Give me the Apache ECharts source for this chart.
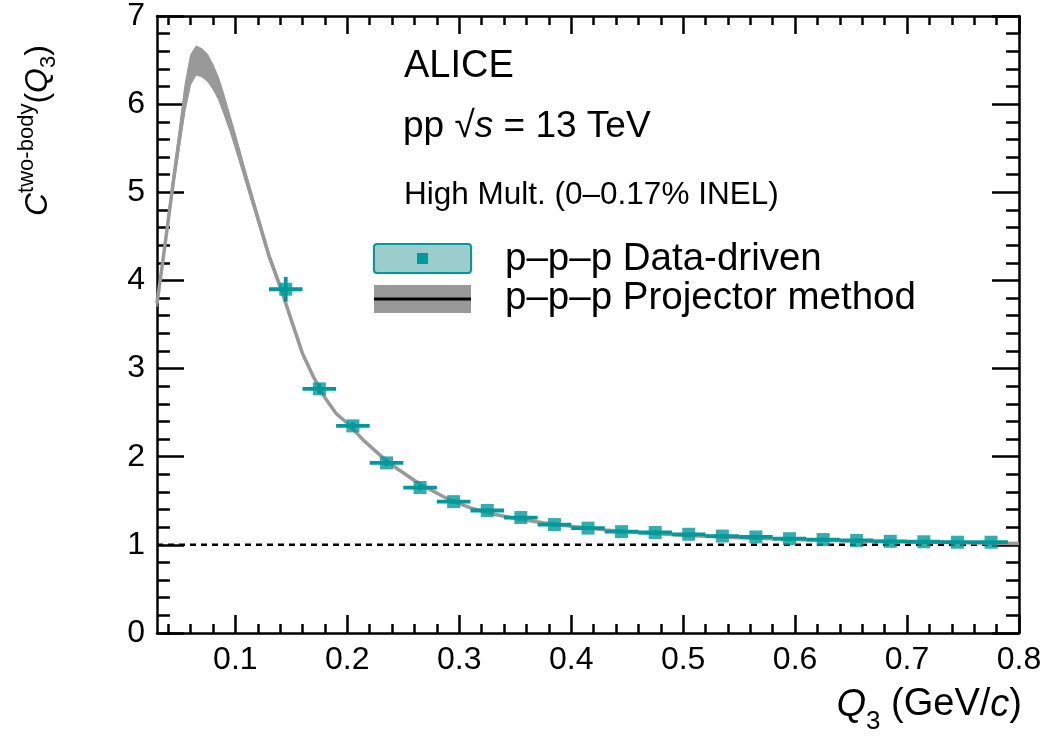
<!DOCTYPE html>
<html><head><meta charset="utf-8">
<script src="https://cdn.jsdelivr.net/npm/echarts@6/dist/echarts.min.js"></script>
<style>html,body{margin:0;padding:0;background:#fff}#c{width:1046px;height:736px}</style>
</head><body><div id="c"></div>
<script>
// ---- data ----
const pointQ = [0.145,0.175,0.205,0.235,0.265,0.295,0.325,0.355,0.385,0.415,0.445,0.475,0.505,0.535,0.565,0.595,0.625,0.655,0.685,0.715,0.745,0.775];
const pointC = [3.90,2.77,2.35,1.93,1.65,1.49,1.39,1.31,1.23,1.19,1.15,1.14,1.12,1.10,1.09,1.07,1.06,1.05,1.04,1.035,1.03,1.03];
const pointErrY = [0.14,0.06,0.04,0.035,0.03,0.025,0.02,0.02,0.02,0.02,0.02,0.02,0.02,0.02,0.02,0.02,0.02,0.02,0.02,0.02,0.02,0.02];
const pointErrX = [0.015,0.015,0.015,0.015,0.015,0.015,0.015,0.015,0.015,0.015,0.015,0.015,0.015,0.015,0.015,0.015,0.015,0.015,0.015,0.015,0.015,0.015];

const bandQ    = [0.030,0.035,0.040,0.045,0.050,0.055,0.060,0.065,0.070,0.075,0.080,0.085,0.090,0.095,0.100,0.110,0.120,0.130,0.140,0.150];
const bandLow  = [3.70,4.15,4.62,5.08,5.50,5.92,6.22,6.33,6.31,6.26,6.17,6.05,5.88,5.70,5.50,5.08,4.66,4.24,3.90,3.53];
const bandHigh = [3.78,4.25,4.75,5.25,5.72,6.22,6.56,6.66,6.63,6.57,6.45,6.30,6.10,5.88,5.66,5.20,4.76,4.32,3.97,3.58];

const curveQ = [0.030,0.035,0.040,0.045,0.050,0.055,0.060,0.065,0.070,0.075,0.080,0.085,0.090,0.095,0.100,0.110,0.120,0.130,0.140,0.150,0.160,0.170,0.180,0.190,0.200,0.215,0.230,0.245,0.260,0.275,0.290,0.310,0.330,0.350,0.375,0.400,0.430,0.460,0.500,0.550,0.600,0.650,0.700,0.750,0.800];
const curveC = [3.74,4.20,4.68,5.16,5.61,6.07,6.39,6.50,6.47,6.41,6.31,6.17,5.99,5.79,5.58,5.14,4.71,4.28,3.93,3.55,3.17,2.90,2.67,2.49,2.38,2.18,2.01,1.86,1.73,1.62,1.52,1.42,1.35,1.30,1.25,1.21,1.17,1.14,1.11,1.08,1.06,1.045,1.035,1.025,1.015];

const refLineQ = [0.03, 0.8];
const refLineC = [1, 1];

const xMajorTicks = [0.1,0.2,0.3,0.4,0.5,0.6,0.7,0.8];
const xMinorTicks = [0.04,0.06,0.08,0.12,0.14,0.16,0.18,0.22,0.24,0.26,0.28,0.32,0.34,0.36,0.38,0.42,0.44,0.46,0.48,0.52,0.54,0.56,0.58,0.62,0.64,0.66,0.68,0.72,0.74,0.76,0.78];
const xMin = 0.03, xMax = 0.8;
const yMin = 0, yMax = 7, yStep = 1;

// ---- style ----
const FONT = '"Liberation Sans", Arial, Helvetica, sans-serif';
const TEAL = '#009999';
const TEAL_LIGHT = '#9ccccc';
const GRAY = '#999999';
const BLACK = '#000';
const LW = 2.5;

const chart = echarts.init(document.getElementById('c'), null, {renderer: 'canvas'});

function xAx(pos, major, withLabel, showLine) {
  return {
    type: 'value', position: pos, min: xMin, max: xMax,
    splitLine: {show: false},
    axisLine: {show: showLine, onZero: false, lineStyle: {color: BLACK, width: LW}},
    axisTick: {show: true, inside: true, length: major ? 18 : 9,
      customValues: major ? xMajorTicks : xMinorTicks,
      lineStyle: {color: BLACK, width: LW}},
    axisLabel: withLabel ? {show: true, customValues: xMajorTicks,
      formatter: v => v.toFixed(1), fontSize: 32, color: BLACK, margin: 11, fontFamily: FONT}
      : {show: false}
  };
}
function yAx(pos, withLabel) {
  return {
    type: 'value', position: pos, min: yMin, max: yMax, interval: yStep,
    splitLine: {show: false},
    axisLine: {show: true, onZero: false, lineStyle: {color: BLACK, width: LW}},
    axisTick: {show: true, inside: true, length: 27, lineStyle: {color: BLACK, width: LW}},
    minorTick: {show: true, splitNumber: 5, length: 13, lineStyle: {color: BLACK, width: LW}},
    axisLabel: withLabel ? {show: true, fontSize: 32, color: BLACK, margin: 12, fontFamily: FONT} : {show: false}
  };
}

const option = {
  animation: false,
  backgroundColor: '#fff',
  grid: {left: 157, right: 27, top: 15, bottom: 103},
  xAxis: [xAx('bottom', true, true, true), xAx('bottom', false, false, false),
          xAx('top', true, false, true), xAx('top', false, false, false)],
  yAxis: [yAx('left', true), yAx('right', false)],
  series: [
    {
      type: 'line', name: 'ref', xAxisIndex: 0, yAxisIndex: 0, silent: true,
      data: refLineQ.map((q, i) => [q, refLineC[i]]),
      symbol: 'none', lineStyle: {color: BLACK, width: 2.5, type: [6, 5]}, z: 1
    },
    {
      type: 'custom', name: 'band', xAxisIndex: 0, yAxisIndex: 0, silent: true,
      data: bandQ.map((q, i) => [q, bandLow[i], bandHigh[i]]),
      renderItem: function (params, api) {
        if (params.dataIndex !== 0) return null;
        const pts = [];
        for (let i = 0; i < bandQ.length; i++) pts.push(api.coord([bandQ[i], bandHigh[i]]));
        for (let i = bandQ.length - 1; i >= 0; i--) pts.push(api.coord([bandQ[i], bandLow[i]]));
        return {type: 'polygon', shape: {points: pts}, style: {fill: GRAY, stroke: GRAY, lineWidth: 1}};
      },
      z: 2
    },
    {
      type: 'line', name: 'p–p–p Projector method', xAxisIndex: 0, yAxisIndex: 0, silent: true,
      data: curveQ.map((q, i) => [q, curveC[i]]),
      symbol: 'none', lineStyle: {color: GRAY, width: 3.5}, z: 3
    },
    {
      type: 'custom', name: 'errors', xAxisIndex: 0, yAxisIndex: 0, silent: true,
      data: pointQ.map((q, i) => [q, pointC[i], pointErrX[i], pointErrY[i]]),
      renderItem: function (params, api) {
        const q = api.value(0), c = api.value(1), ex = api.value(2), ey = api.value(3);
        const l = api.coord([q - ex, c]), r = api.coord([q + ex, c]);
        const b = api.coord([q, c - ey]), t = api.coord([q, c + ey]);
        return {type: 'group', children: [
          {type: 'line', shape: {x1: l[0], y1: l[1], x2: r[0], y2: r[1]}, style: {stroke: TEAL, lineWidth: 3.8}},
          {type: 'line', shape: {x1: b[0], y1: b[1], x2: t[0], y2: t[1]}, style: {stroke: TEAL, lineWidth: 3.8}}
        ]};
      },
      z: 4
    },
    {
      type: 'scatter', name: 'p–p–p Data-driven', xAxisIndex: 0, yAxisIndex: 0, silent: true,
      data: pointQ.map((q, i) => [q, pointC[i]]),
      symbol: 'rect', symbolSize: 13, itemStyle: {color: TEAL}, z: 5
    }
  ],
  graphic: [
    {type: 'text', x: 404, y: 67, z: 10, style: {text: 'ALICE', font: '38px ' + FONT, fill: BLACK, align: 'left', verticalAlign: 'middle'}},
    {type: 'text', x: 403, y: 127, z: 10, style: {
      text: '{n|pp }{n|√}{i|s}{n| = 13 TeV}', align: 'left', verticalAlign: 'middle',
      rich: {n: {fontSize: 37, fontFamily: FONT, fill: BLACK}, i: {fontSize: 37, fontFamily: FONT, fontStyle: 'italic', fill: BLACK}}}},
    {type: 'text', x: 404, y: 195, z: 10, style: {text: 'High Mult. (0–0.17% INEL)', font: '31.5px ' + FONT, fill: BLACK, align: 'left', verticalAlign: 'middle'}},
    // legend
    {type: 'rect', z: 10, shape: {x: 374, y: 244, width: 97, height: 29, r: 3}, style: {fill: TEAL_LIGHT, stroke: TEAL, lineWidth: 2}},
    {type: 'rect', z: 11, shape: {x: 417, y: 253, width: 11, height: 11}, style: {fill: TEAL}},
    {type: 'text', x: 505, y: 259, z: 10, style: {text: 'p–p–p Data-driven', font: '38.5px ' + FONT, fill: BLACK, align: 'left', verticalAlign: 'middle'}},
    {type: 'rect', z: 10, shape: {x: 374, y: 285, width: 97, height: 28}, style: {fill: GRAY}},
    {type: 'line', z: 11, shape: {x1: 374, y1: 299, x2: 471, y2: 299}, style: {stroke: BLACK, lineWidth: 3}},
    {type: 'text', x: 505, y: 298, z: 10, style: {text: 'p–p–p Projector method', font: '38.5px ' + FONT, fill: BLACK, align: 'left', verticalAlign: 'middle'}},
    // axis titles
    {type: 'text', x: 1022, y: 705, z: 10, style: {
      text: '{i|Q}{s|3}{n| (GeV/}{i|c}{n|)}', align: 'right', verticalAlign: 'middle',
      rich: {
        n: {fontSize: 38, fontFamily: FONT, fill: BLACK, lineHeight: 60},
        i: {fontSize: 38, fontFamily: FONT, fontStyle: 'italic', fill: BLACK, lineHeight: 60},
        s: {fontSize: 26, fontFamily: FONT, fill: BLACK, lineHeight: 26, verticalAlign: 'bottom'}
      }}},
    {type: 'text', x: 38, y: 216, rotation: Math.PI / 2, z: 10, style: {
      text: '{i|C}{p|two-body}{n|(}{i|Q}{s|3}{n|)}', align: 'left', verticalAlign: 'middle',
      rich: {
        n: {fontSize: 32, fontFamily: FONT, fill: BLACK, lineHeight: 44},
        i: {fontSize: 32, fontFamily: FONT, fontStyle: 'italic', fill: BLACK, lineHeight: 44},
        p: {fontSize: 22, fontFamily: FONT, fill: BLACK, lineHeight: 16, verticalAlign: 'top'},
        s: {fontSize: 22, fontFamily: FONT, fill: BLACK, lineHeight: 24, verticalAlign: 'bottom'}
      }}}
  ]
};
chart.setOption(option);
</script></body></html>
